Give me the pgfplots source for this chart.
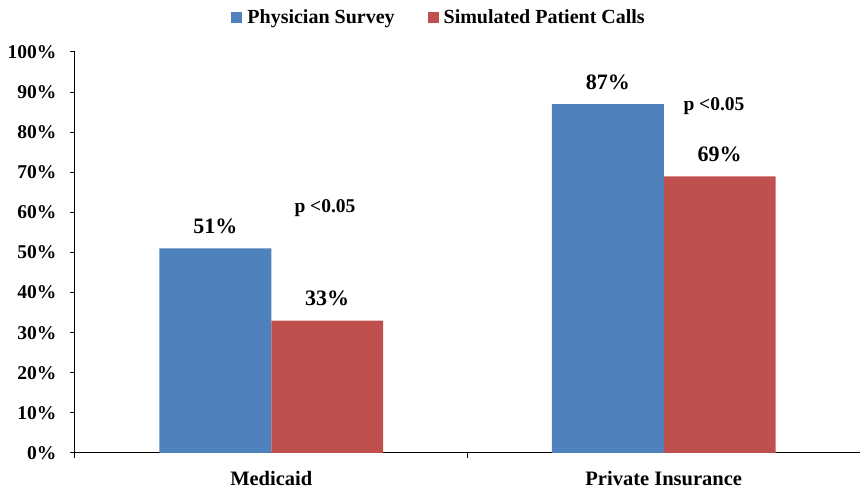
\documentclass[border=0pt]{standalone}
\usepackage{fontspec}
\setmainfont{Liberation Serif}
\usepackage{pgfplots}
\pgfplotsset{compat=1.18}

\definecolor{barblue}{HTML}{4F81BD}
\definecolor{barred}{HTML}{C0504D}

\begin{document}
\begin{tikzpicture}[font=\bfseries\fontsize{19.5}{22}\selectfont]
\useasboundingbox (-75pt,-36pt) rectangle (785pt,453pt);
\begin{axis}[
    scale only axis,
    width=785pt,
    height=401pt,
    ybar=0pt,
    bar width=0.285,
    xmin=-0.5, xmax=1.5,
    ymin=0, ymax=100,
    axis x line*=bottom,
    axis y line*=left,
    axis line style={-, line width=1pt},
    tick align=outside,
    major tick length=5pt,
    tick style={black, line width=1pt},
    ytick={0,10,...,100},
    yticklabels={0\%,10\%,20\%,30\%,40\%,50\%,60\%,70\%,80\%,90\%,100\%},
    yticklabel style={xshift=-10pt},
    xtick={-0.5,0.5,1.5},
    xticklabels={},
    extra x ticks={0,1},
    extra x tick labels={Medicaid,Private Insurance},
    extra x tick style={major tick length=0pt,
        xticklabel style={anchor=base, yshift=-33pt, font=\bfseries\fontsize{20.5}{22}\selectfont}},
    nodes near coords={\pgfmathprintnumber[assume math mode=true]{\pgfplotspointmeta}\%},
    nodes near coords style={anchor=base, yshift=15pt, inner sep=0pt,
        font=\bfseries\fontsize{22}{24}\selectfont},
    legend columns=2,
    legend style={draw=none, fill=none, inner sep=0pt, at={(0.199,1.086)}, anchor=west,
        font=\bfseries\fontsize{20}{22}\selectfont,
        nodes={inner sep=0pt},
        /tikz/every odd column/.append style={column sep=5pt},
        /tikz/every even column/.append style={column sep=33pt}},
    legend image code/.code={\fill[#1] (0pt,-5.5pt) rectangle (11pt,5.5pt);},
]
\addplot[fill=barblue, draw=none] coordinates {(0,51) (1,87)};
\addplot[fill=barred, draw=none] coordinates {(0,33) (1,69)};
\legend{Physician Survey, Simulated Patient Calls}
\node[anchor=base, inner sep=0pt, font=\bfseries\fontsize{19.5}{22}\selectfont] at (axis cs:0.137,59.85) {p <0.05};
\node[anchor=base, inner sep=0pt, font=\bfseries\fontsize{19.5}{22}\selectfont] at (axis cs:1.128,85.5) {p <0.05};
\end{axis}
\end{tikzpicture}
\end{document}
